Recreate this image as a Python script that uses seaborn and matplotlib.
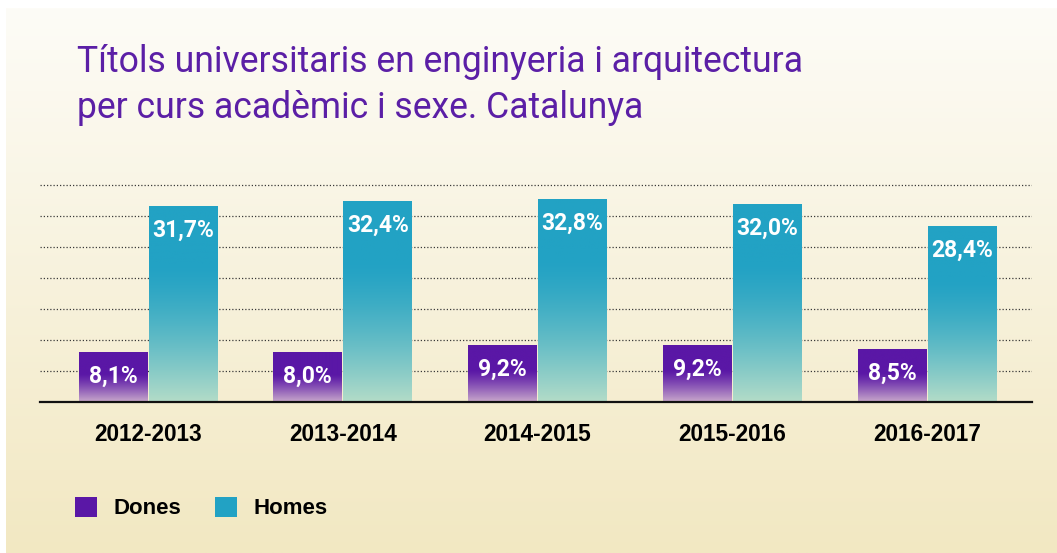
import numpy as np
import pandas as pd
import matplotlib
matplotlib.use("Agg")
import matplotlib.pyplot as plt
import seaborn as sns
from matplotlib import font_manager as fm
from matplotlib.colors import to_rgb

# ---- data ----
courses = ["2012-2013", "2013-2014", "2014-2015", "2015-2016", "2016-2017"]
dones = [8.1, 8.0, 9.2, 9.2, 8.5]
homes = [31.7, 32.4, 32.8, 32.0, 28.4]
series_names = ["Dones", "Homes"]
title_lines = ["Títols universitaris en enginyeria i arquitectura",
               "per curs acadèmic i sexe. Catalunya"]

names = {f.name for f in fm.fontManager.ttflist}
NARROW = "Roboto" if "Roboto" in names else "Liberation Sans"
SANS = "Liberation Sans"

df = pd.DataFrame({
    "curs": courses * 2,
    "sexe": [series_names[0]] * len(courses) + [series_names[1]] * len(courses),
    "valor": dones + homes,
})

PURPLE = "#5a17a6"
BLUE = "#22a2c4"
PURPLE_BOT = "#c9a9cb"
BLUE_BOT = "#b3dcc8"
TITLE_C = "#5b1fa6"

sns.set_theme(style="white")
plt.rcParams["font.family"] = [SANS, "DejaVu Sans"]

W, H = 1057, 553
fig = plt.figure(figsize=(W / 100, H / 100), dpi=100, facecolor="white")

# background gradient panel
bg = fig.add_axes([6 / W, 0, 1 - 6 / W, 1 - 8 / H], zorder=-10)
top_c = np.array(to_rgb("#fdfcf7"))
bot_c = np.array(to_rgb("#f2e8c2"))
t = np.linspace(0, 1, 256)[:, None]
grad = top_c[None, :] * (1 - t) + bot_c[None, :] * t
bg.imshow(grad[:, None, :].repeat(2, axis=1), aspect="auto", extent=[0, 1, 0, 1])
bg.set_axis_off()

ax_left, ax_right = 40 / W, 1032 / W
ax_bottom = (H - 402) / H
ax_top = (H - 182) / H
ax = fig.add_axes([ax_left, ax_bottom, ax_right - ax_left, ax_top - ax_bottom])
ax.set_facecolor("none")

sns.barplot(data=df, x="curs", y="valor", hue="sexe", order=courses,
            hue_order=series_names, palette=[PURPLE, BLUE], width=0.72, gap=0.02,
            saturation=1, ax=ax, zorder=3, linewidth=0)

ax.set_yticks([5, 10, 15, 20, 25, 30, 35])
ax.yaxis.grid(True, color="#3a3a3a", linestyle=(0, (1, 1.6)), linewidth=0.9, zorder=0)
ax.set_axisbelow(True)
ax.tick_params(axis="y", left=False, labelleft=False)
ax.tick_params(axis="x", bottom=False, pad=9)
for lab in ax.get_xticklabels():
    lab.set_fontfamily(SANS)
    lab.set_fontweight("bold")
    lab.set_fontsize(16.3)
    lab.set_color("#000000")
ax.set_xlabel("")
ax.set_ylabel("")
for s in ["top", "right", "left"]:
    ax.spines[s].set_visible(False)
ax.spines["bottom"].set_color("#111111")
ax.spines["bottom"].set_linewidth(1.6)
ax.spines["bottom"].set_zorder(5)


def bar_gradient(patch, c_top, c_bot, start, power):
    x0, y0 = patch.get_x(), patch.get_y()
    w, h = patch.get_width(), patch.get_height()
    tt = np.linspace(0, 1, 200)[:, None]
    m = np.clip((tt - start) / (1 - start), 0, 1) ** power
    ct, cb = np.array(to_rgb(c_top)), np.array(to_rgb(c_bot))
    img = ct[None, :] * (1 - m) + cb[None, :] * m
    im = ax.imshow(img[:, None, :].repeat(2, axis=1), aspect="auto",
                   extent=[x0, x0 + w, y0, y0 + h], origin="upper", zorder=3.5)
    im.set_clip_path(patch)


for cont, ctop, cbot, st, pw in [(ax.containers[0], PURPLE, PURPLE_BOT, 0.45, 1.2),
                                 (ax.containers[1], BLUE, BLUE_BOT, 0.3, 1.4)]:
    for p, v in zip(cont.patches, cont.datavalues):
        bar_gradient(p, ctop, cbot, st, pw)
        lbl = f"{v:.1f}".replace(".", ",") + "%"
        ax.annotate(lbl, (p.get_x() + p.get_width() / 2, v), xytext=(0, -17.5),
                    textcoords="offset points", ha="center", va="center",
                    color="white", fontsize=16.5, fontweight="bold",
                    family=[NARROW, "DejaVu Sans"], zorder=6)

ax.set_xlim(-0.5546, 4.539)
ax.set_ylim(0, 35.5)

# legend
sns.move_legend(ax, "center left", bbox_to_anchor=(75 / W, 1 - 508 / H),
                bbox_transform=fig.transFigure, ncol=2, frameon=False, title=None,
                handlelength=1.0, handleheight=1.0, handletextpad=0.75,
                columnspacing=1.5, borderpad=0, borderaxespad=0,
                prop={"family": SANS, "weight": "bold", "size": 16})
for txt in ax.get_legend().get_texts():
    txt.set_color("#000000")

# title
fig.text(77 / W, 1 - 72 / H, title_lines[0], color=TITLE_C, fontsize=25.6,
         family=[NARROW, "DejaVu Sans"], va="baseline", ha="left")
fig.text(77 / W, 1 - 118 / H, title_lines[1], color=TITLE_C, fontsize=25.6,
         family=[NARROW, "DejaVu Sans"], va="baseline", ha="left")

fig.savefig("out.png", dpi=100, facecolor="white")
